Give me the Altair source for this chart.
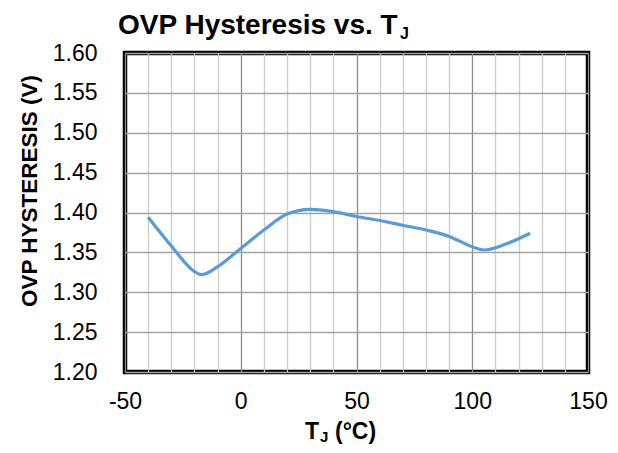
import altair as alt
import pandas as pd

temps = [-40, -30, -20, -17, -10, 0, 10, 20, 30, 40, 50, 60, 70, 80, 90, 100, 105, 115, 125]
hyst = [1.394, 1.358, 1.326, 1.322, 1.332, 1.355, 1.378, 1.398, 1.404, 1.401, 1.395, 1.390, 1.384, 1.378, 1.370, 1.357, 1.353, 1.361, 1.374]

x_grid = list(range(-50, 151, 10))
y_ticks = [1.20, 1.25, 1.30, 1.35, 1.40, 1.45, 1.50, 1.55, 1.60]

df = pd.DataFrame({"t": temps, "v": hyst})

FONT = "Liberation Sans"

line = alt.Chart(df).mark_line(
    color="#5b9bd5", strokeWidth=3.2, interpolate="monotone", clip=True
).encode(
    x=alt.X("t:Q",
            scale=alt.Scale(domain=[-50, 150], nice=False, zero=False),
            axis=alt.Axis(
                values=x_grid, title=None, ticks=False, domain=False,
                labelExpr="datum.value % 50 === 0 ? '' + datum.value : ''",
                labelOverlap=False, labelFlush=False, labelPadding=18,
                labelFontSize=23, labelFont=FONT, labelColor="black",
                grid=True, gridWidth=1.3,
                gridColor=alt.condition("datum.value % 50 === 0",
                                        alt.value("#8c8c8c"), alt.value("#cbcbcb")),
            )),
    y=alt.Y("v:Q",
            scale=alt.Scale(domain=[1.20, 1.60], nice=False, zero=False),
            axis=alt.Axis(
                values=y_ticks, format=".2f", title=None, ticks=False, domain=False,
                labelPadding=28, labelFontSize=23, labelFont=FONT, labelColor="black",
                labelOverlap=False, labelFlush=False,
                grid=True, gridColor="#a3a3a3", gridWidth=1.3,
            )),
)

def txt(s, x, y, size, angle=0, align="left", baseline="alphabetic"):
    return alt.Chart(pd.DataFrame({"s": [s]})).mark_text(
        font=FONT, fontWeight="bold", fontSize=size, color="black",
        align=align, baseline=baseline, angle=angle,
    ).encode(text="s:N", x=alt.value(x), y=alt.value(y))

title1 = txt("OVP Hysteresis vs. T", -7, -19, 28)
title2 = txt("J", 275, -14, 16)
xt1 = txt("T", 180, 386, 23)
xt2 = txt("J", 195, 389, 15)
xt3 = txt("(°C)", 210, 386, 23)
yt = txt("OVP HYSTERESIS (V)", -88, 138, 22.5, angle=270, align="center")

chart = alt.layer(line, title1, title2, xt1, xt2, xt3, yt).properties(
    width=463, height=319,
    autosize=alt.AutoSizeParams(type="none"),
    padding={"left": 117, "top": 45, "right": 22, "bottom": 73},
).configure_view(stroke="black", strokeWidth=4.5)

chart.save("out.html", embed_options={"renderer": "svg", "actions": False})
